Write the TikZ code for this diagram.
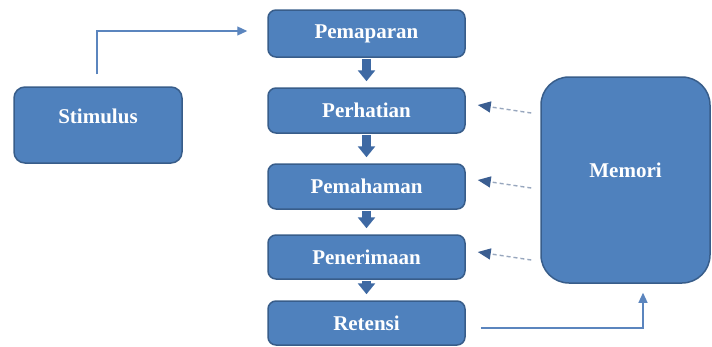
\documentclass[tikz,border=0pt]{standalone}
\usepackage{fontspec}
\setmainfont{Liberation Serif}
\usetikzlibrary{arrows.meta,calc}
\definecolor{boxfill}{HTML}{4F81BD}
\definecolor{boxedge}{HTML}{385D8A}
\definecolor{blockar}{HTML}{3E69A3}
\definecolor{thinline}{HTML}{5B85BE}
\definecolor{dashgrey}{HTML}{97A6BD}
\definecolor{dashhead}{HTML}{3B5E91}
\tikzset{
  box/.style={draw=boxedge, line width=1.5pt, fill=boxfill, rounded corners=8pt,
    text=white, font=\fontsize{21}{24}\selectfont\bfseries, inner sep=0pt},
  blockarrow/.style={draw=blockar, line width=8.5pt, -{Triangle[width=17pt,length=11pt]},
    shorten <=1pt, shorten >=6pt},
  thinarrow/.style={draw=thinline, line width=1.2pt, -{Triangle[width=9pt,length=10pt]}},
  dasharrow/.style={draw=dashgrey, line width=1.4pt, dash pattern=on 4pt off 3pt,
    -{Triangle[width=11pt,length=13pt,color=dashhead,fill=dashhead]}},
}
\begin{document}
\begin{tikzpicture}[x=1pt,y=-1pt]
\useasboundingbox (0,0) rectangle (712,346);
% process boxes
\node[box, minimum width=197pt, minimum height=47pt] (Pemaparan) at (366.5,33.5) {Pemaparan};
\node[box, minimum width=197pt, minimum height=45pt] (Perhatian) at (366.5,110.5) {Perhatian};
\node[box, minimum width=197pt, minimum height=45pt] (Pemahaman) at (366.5,186.5) {Pemahaman};
\node[box, minimum width=197pt, minimum height=44pt] (Penerimaan) at (366.5,257) {Penerimaan};
\node[box, minimum width=197pt, minimum height=44pt] (Retensi) at (366.5,323) {Retensi};
% stimulus
\node[box, rounded corners=11pt, minimum width=168pt, minimum height=76pt,
  label={[text=white, font=\fontsize{21}{24}\selectfont\bfseries, yshift=9pt]center:Stimulus}] (Stimulus) at (98,125) {};
% memori
\node[box, rounded corners=28pt, minimum width=169pt, minimum height=206pt,
  label={[text=white, font=\fontsize{21}{24}\selectfont\bfseries, yshift=10pt]center:Memori}] (Memori) at (625.5,180) {};
% block arrows
\draw[blockarrow] (Pemaparan.south) -- (Perhatian.north);
\draw[blockarrow] (Perhatian.south) -- (Pemahaman.north);
\draw[blockarrow] (Pemahaman.south) -- (Penerimaan.north);
\draw[blockarrow] (Penerimaan.south) -- (Retensi.north);
% stimulus to pemaparan
\coordinate (stimTop) at ($(Stimulus.north)+(-1,-12)$);
\draw[thinarrow, shorten >=20pt] (stimTop) |- ($(Pemaparan.west)+(0,-2.5)$);
% retensi to memori
\coordinate (retOut) at ($(Retensi.east)+(15,5)$);
\draw[thinarrow, shorten >=9pt] (retOut) -| ($(Memori.south)+(17.5,0)$);
% memori dashed arrows
\draw[dasharrow] ($(Memori.west |- Perhatian.east)+(-9,2.5)$) -- ($(Perhatian.east)+(12,-5.5)$);
\draw[dasharrow] ($(Memori.west |- Pemahaman.east)+(-9,1.5)$) -- ($(Pemahaman.east)+(12,-6.5)$);
\draw[dasharrow] ($(Memori.west |- Penerimaan.east)+(-9,3)$) -- ($(Penerimaan.east)+(12,-5)$);
\end{tikzpicture}
\end{document}
